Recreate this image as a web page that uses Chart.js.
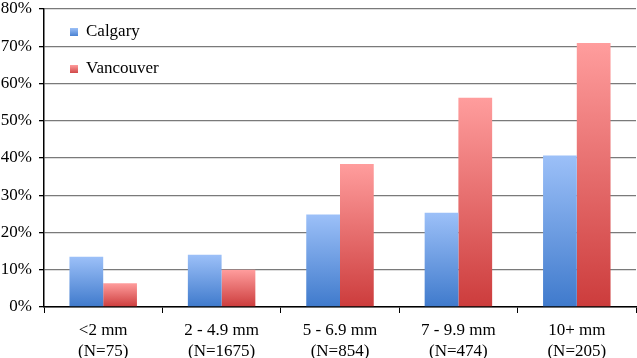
<!DOCTYPE html>
<html>
<head>
<meta charset="utf-8">
<script src="https://cdn.jsdelivr.net/npm/chart.js@4"></script>
<style>
  html, body { margin: 0; padding: 0; background: #fff; }
  #wrap { width: 637px; height: 358px; }
</style>
</head>
<body>
<div id="wrap"><canvas id="chart" width="637" height="358"></canvas></div>
<script>
const categories = [
    ['<2 mm', '(N=75)'],
    ['2 - 4.9 mm', '(N=1675)'],
    ['5 - 6.9 mm', '(N=854)'],
    ['7 - 9.9 mm', '(N=474)'],
    ['10+ mm', '(N=205)']
];
const calgary = [13.5, 14.0, 24.8, 25.3, 40.7];
const vancouver = [6.4, 10.0, 38.4, 56.2, 70.9];
const yTicks = [0, 10, 20, 30, 40, 50, 60, 70, 80];

const fontFamily = '"Liberation Serif", "Times New Roman", serif';

// each bar gets its own light-top / dark-bottom gradient
function barGradient(top, bottom) {
    return (ctx) => {
        const chart = ctx.chart;
        if (!chart.chartArea || ctx.type !== 'data') return bottom;
        const y = chart.scales.y;
        const yTop = y.getPixelForValue(ctx.raw);
        const yBase = y.getPixelForValue(0);
        if (!isFinite(yTop) || !isFinite(yBase) || yTop === yBase) return bottom;
        const g = chart.ctx.createLinearGradient(0, yTop, 0, yBase);
        g.addColorStop(0, top);
        g.addColorStop(1, bottom);
        return g;
    };
}

const insideLegend = {
    id: 'insideLegend',
    afterDraw(chart) {
        const {ctx} = chart;
        const y0 = chart.scales.y.getPixelForValue(80);
        const x0 = chart.chartArea.left;
        ctx.save();
        ctx.font = '17px ' + fontFamily;
        ctx.textBaseline = 'middle';
        chart.data.datasets.forEach((ds, i) => {
            const y = y0 + 23 + i * 37;
            const x = x0 + 26;
            const g = ctx.createLinearGradient(0, y - 4, 0, y + 4);
            g.addColorStop(0, i === 0 ? '#9cc0f7' : '#ff9c9c');
            g.addColorStop(1, i === 0 ? '#4a82d2' : '#d04848');
            ctx.fillStyle = g;
            ctx.fillRect(x, y - 4, 8, 8);
            ctx.fillStyle = '#000';
            ctx.fillText(ds.label, x + 16, y);
        });
        ctx.restore();
    }
};

new Chart(document.getElementById('chart'), {
    type: 'bar',
    data: {
        labels: categories,
        datasets: [{
            label: 'Calgary',
            data: calgary,
            backgroundColor: barGradient('#9cc0f8', '#3f7acc'),
            borderWidth: 0
        }, {
            label: 'Vancouver',
            data: vancouver,
            backgroundColor: barGradient('#ff9d9d', '#cc3c3c'),
            borderWidth: 0
        }]
    },
    options: {
        responsive: false,
        animation: false,
        layout: {autoPadding: false, padding: {top: 9, right: 1, left: 0, bottom: 0}},
        datasets: {
            bar: {categoryPercentage: 0.57, barPercentage: 1.0}
        },
        plugins: {
            legend: {display: false},
            tooltip: {enabled: false}
        },
        scales: {
            x: {
                afterFit: (axis) => { axis.height = 51; },
                grid: {
                    offset: true,
                    drawOnChartArea: false,
                    tickLength: 6,
                    tickColor: '#000'
                },
                border: {color: '#000', width: 1.5},
                ticks: {
                    color: '#000',
                    font: {family: fontFamily, size: 17, lineHeight: 1.25},
                    padding: 7
                }
            },
            y: {
                min: 0,
                max: 80,
                afterFit: (axis) => {
                    axis.width = 44;
                    axis.paddingTop = 0;
                    axis.paddingBottom = 0;
                },
                afterBuildTicks: (axis) => {
                    axis.ticks = yTicks.map(v => ({value: v}));
                },
                grid: {
                    color: '#7a7a7a',
                    lineWidth: 1.3,
                    tickLength: 5,
                    tickColor: '#000'
                },
                border: {color: '#000', width: 1.5},
                ticks: {
                    color: '#000',
                    font: {family: fontFamily, size: 17},
                    padding: 7,
                    callback: (v) => v + '%'
                }
            }
        }
    },
    plugins: [insideLegend]
});
</script>
</body>
</html>
